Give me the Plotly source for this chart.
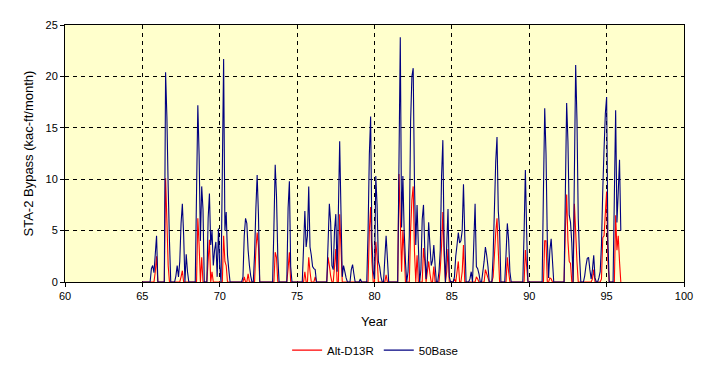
import plotly.graph_objects as go

years = list(range(1965, 1996))

# 50Base monthly values (kac-ft/month), one row of 12 months per year 1965..1995
base50 = [
    [0, 0, 0, 0, 0, 0, 0, 1.3, 1.6, 0.9, 2.7, 4.5],
    [0, 0, 0, 0, 0, 0, 20.4, 16.1, 9.3, 4.0, 0, 0],
    [0, 0, 0.6, 1.6, 0.5, 2.0, 5.7, 7.6, 4.6, 0, 2.7, 1.0],
    [0, 0, 0, 0, 0, 0, 8.7, 17.2, 12.3, 4.0, 9.3, 7.1],
    [0, 0, 0, 6.2, 8.6, 3.6, 5.0, 1.6, 3.1, 3.9, 0.5, 5.2],
    [1.5, 0, 10.8, 21.7, 5.0, 6.8, 2.6, 1.2, 0, 0, 0, 0],
    [0, 0, 0, 0, 0, 0, 0.5, 4.5, 6.2, 5.7, 3.1, 1.6],
    [0.6, 0, 0, 2.7, 7.1, 10.4, 6.6, 0, 0, 0, 0, 0],
    [0, 0, 0, 0, 0, 0, 5.3, 11.4, 8.4, 2.5, 0, 0],
    [0, 0, 0, 0, 0, 7.2, 9.8, 1.5, 0, 0, 0, 0],
    [0, 0, 0, 0, 0, 3.4, 6.9, 3.4, 4.5, 9.3, 3.4, 2.6],
    [1.5, 1.3, 1.2, 0, 0, 0, 0, 0, 0, 0, 0, 0],
    [3.8, 7.6, 5.8, 1.6, 1.2, 5.0, 6.6, 1.0, 6.9, 13.7, 6.9, 0.5],
    [1.6, 1.0, 0.4, 0, 0, 0, 1.2, 1.7, 0.8, 0, 0, 0],
    [0, 0.3, 0, 0, 0, 0, 0, 4.8, 12.4, 16.1, 4.0, 1.0],
    [0.3, 10.3, 7.5, 2.0, 1.5, 0.5, 0, 0, 2.3, 4.5, 2.3, 0],
    [0, 0, 0, 0, 0, 0, 0, 11.9, 23.8, 5.3, 10.3, 5.0],
    [2.0, 0, 1.0, 4.5, 15.6, 20.0, 20.8, 9.5, 3.6, 7.5, 3.6, 0],
    [1.2, 6.1, 7.5, 3.1, 0.3, 2.1, 5.8, 3.6, 1.6, 2.1, 3.6, 1.6],
    [0, 0, 1.0, 3.1, 10.3, 13.8, 3.5, 0, 3.6, 7.1, 0.5, 0],
    [0, 0, 0.5, 2.5, 3.6, 4.8, 3.8, 4.0, 5.0, 9.5, 4.5, 0],
    [0, 0, 0.3, 1.0, 0, 3.8, 7.6, 1.5, 1.3, 0.8, 0, 0],
    [1.0, 2.0, 3.4, 2.6, 1.5, 0, 0, 0, 2.6, 7.1, 11.7, 14.1],
    [6.9, 5.0, 0, 0, 0, 0, 2.7, 5.7, 4.1, 1.0, 0, 0],
    [0, 0, 0, 0, 0, 0, 0, 0, 4.8, 10.9, 4.8, 0],
    [0, 0, 0, 0, 0, 0, 0, 0, 0, 0, 0, 8.9],
    [16.9, 12.5, 4.2, 0.4, 3.1, 4.2, 2.1, 0, 0, 0, 0, 0],
    [0, 0, 0, 0, 8.7, 17.4, 13.7, 6.5, 5.8, 3.8, 0, 10.6],
    [21.1, 15.8, 6.2, 2.5, 0, 0, 0, 0.6, 1.6, 2.3, 2.4, 1.2],
    [0.3, 1.2, 2.6, 0.4, 0, 0, 0.4, 1.0, 3.6, 8.9, 12.9, 16.4],
    [18.0, 4.0, 0, 0, 0, 0, 8.4, 16.7, 5.8, 8.7, 11.9, 5.0],
]

# Alt-D13R monthly values (kac-ft/month)
alt_d13r = [
    [0, 0, 0, 0, 0, 0, 0, 0, 0, 0, 1.0, 2.5],
    [0, 0, 0, 0, 0, 0, 10.1, 6.0, 1.6, 0, 0, 0],
    [0, 0, 0, 0, 0, 0, 0.5, 1.1, 0, 0, 0, 0],
    [0, 0, 0, 0, 0, 0, 0, 6.2, 3.6, 0, 2.4, 0],
    [0, 0, 0, 2.1, 4.1, 0, 1.0, 0, 0, 0, 0, 0],
    [0, 0, 0, 4.5, 2.0, 1.6, 0, 0, 0, 0, 0, 0],
    [0, 0, 0, 0, 0, 0, 0, 0.5, 0, 0, 0.8, 0],
    [0, 0, 0, 0, 3.1, 4.8, 3.5, 0, 0, 0, 0, 0],
    [0, 0, 0, 0, 0, 0, 0, 2.9, 2.4, 0, 0, 0],
    [0, 0, 0, 0, 0, 1.3, 2.9, 0, 0, 0, 0, 0],
    [0, 0, 0, 0, 0, 0, 1.0, 0, 0, 2.4, 1.0, 0],
    [0, 0, 0.5, 0, 0, 0, 0, 0, 0, 0, 0, 0],
    [2.4, 1.6, 0.6, 0, 0, 1.5, 3.2, 0, 0, 6.6, 3.4, 0],
    [0, 0, 0, 0, 0, 0, 0, 0, 0, 0, 0, 0],
    [0, 0, 0, 0, 0, 0, 0, 0, 5.0, 7.3, 2.0, 0],
    [0, 3.9, 2.5, 0, 0, 0, 0, 0, 0, 0.7, 0, 0],
    [0, 0, 0, 0, 0, 0, 0, 10.5, 6.2, 1.0, 5.0, 3.0],
    [0, 0, 0, 0, 5.0, 8.0, 9.3, 3.0, 0, 2.6, 0, 0],
    [0, 0, 3.3, 2.0, 0, 1.0, 2.0, 0.8, 0, 0, 1.5, 0],
    [0, 0, 0, 1.3, 3.5, 6.8, 2.5, 0, 1.0, 3.2, 0, 0],
    [0, 0, 0.3, 0, 1.0, 2.0, 0, 0, 1.0, 3.6, 0, 0],
    [0, 0, 0, 0, 0, 0, 0, 0.5, 0.3, 0, 0, 0],
    [0, 0, 1.2, 0.8, 0.4, 0, 0, 0, 0.5, 2.6, 4.8, 6.2],
    [3.0, 0, 0, 0, 0, 0, 0, 2.4, 1.0, 0, 0, 0],
    [0, 0, 0, 0, 0, 0, 0, 0, 0, 3.1, 1.5, 0],
    [0, 0, 0, 0, 0, 0, 0, 0, 0, 0, 0, 0],
    [4.0, 4.0, 0, 0, 0.4, 0.3, 0, 0, 0, 0, 0, 0],
    [0, 0, 0, 0, 5.0, 8.5, 4.0, 2.0, 1.8, 0, 0, 7.6],
    [4.9, 2.0, 0, 0, 0, 0, 0, 0, 0, 0, 0, 0],
    [0, 0.3, 1.2, 0, 0, 0, 0, 0, 0.3, 4.3, 4.5, 6.7],
    [8.8, 2.0, 0, 0, 0, 0, 0, 6.5, 3.1, 4.5, 2.0, 0],
]

x_ticks = [60, 65, 70, 75, 80, 85, 90, 95, 100]
y_ticks = [0, 5, 10, 15, 20, 25]

x_vals = [(yr - 1900) + k / 12.0 for yr in years for k in range(12)]
y_base = [v for row in base50 for v in row]
y_alt = [v for row in alt_d13r for v in row]

FONT = "Arial, Liberation Sans, sans-serif"

fig = go.Figure()
fig.add_trace(go.Scatter(x=x_vals, y=y_alt, mode="lines", name="Alt-D13R",
                         line=dict(color="#FF0000", width=1.1, simplify=False)))
fig.add_trace(go.Scatter(x=x_vals, y=y_base, mode="lines", name="50Base",
                         line=dict(color="#000080", width=1.1, simplify=False)))

fig.update_layout(
    width=701, height=368,
    margin=dict(l=57, r=25, t=17, b=91),
    paper_bgcolor="white",
    plot_bgcolor="#FFFFCC",
    font=dict(family=FONT, size=11, color="black"),
    showlegend=True,
    legend=dict(orientation="h", x=0.501, xanchor="center", y=-0.265, yanchor="middle",
                font=dict(size=11.5, family=FONT), bgcolor="rgba(0,0,0,0)",
                itemwidth=30, tracegroupgap=0),
    xaxis=dict(range=[60, 100], tickvals=x_ticks, ticktext=[str(t) for t in x_ticks],
               showgrid=True, gridcolor="black", gridwidth=1, griddash="4px,4px",
               showline=True, linecolor="black", linewidth=1, mirror=True,
               ticks="outside", ticklen=4, tickcolor="black", zeroline=False,
               tickfont=dict(size=11, family=FONT)),
    yaxis=dict(range=[0, 25], tickvals=y_ticks, ticktext=[str(t) for t in y_ticks],
               showgrid=True, gridcolor="black", gridwidth=1, griddash="4px,4px",
               showline=True, linecolor="black", linewidth=1, mirror=True,
               ticks="outside", ticklen=4, tickcolor="black", zeroline=False,
               tickfont=dict(size=11, family=FONT)),
    annotations=[
        dict(text="Year", xref="paper", yref="paper", x=0.5, y=-0.155,
             xanchor="center", yanchor="middle", showarrow=False,
             font=dict(size=13, family=FONT)),
        dict(text="STA-2 Bypass (kac-ft/month)", xref="paper", yref="paper",
             x=(28 - 65) / 619.0, y=0.5, xanchor="center", yanchor="middle",
             textangle=-90, showarrow=False, font=dict(size=13, family=FONT)),
    ],
)

fig.write_html("out.html")
